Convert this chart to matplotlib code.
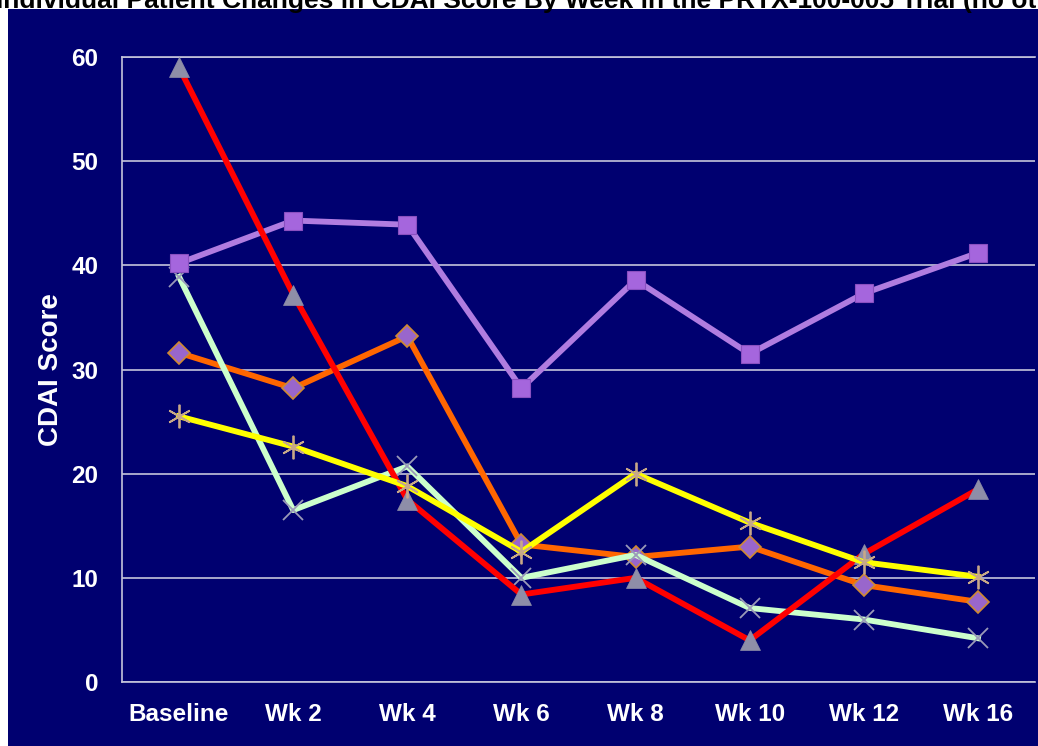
import matplotlib.pyplot as plt
from matplotlib.patches import Rectangle

plt.rcParams['font.family'] = ['Liberation Sans', 'DejaVu Sans']

# week labels on the x axis
weeks = ["Baseline", "Wk 2", "Wk 4", "Wk 6", "Wk 8", "Wk 10", "Wk 12", "Wk 16"]

# CDAI score per patient
pt_red = [59.0, 37.2, 17.5, 8.4, 10.0, 4.0, 12.3, 18.5]
pt_purple = [40.2, 44.3, 43.9, 28.2, 38.6, 31.5, 37.3, 41.2]
pt_orange = [31.6, 28.2, 33.2, 13.2, 12.0, 13.0, 9.3, 7.7]
pt_yellow = [25.5, 22.6, 18.8, 12.5, 20.0, 15.3, 11.5, 10.1]
pt_green = [38.9, 16.5, 20.7, 10.0, 12.2, 7.1, 6.0, 4.2]

navy = "#000070"
gridc = "#c4c4dc"

fig = plt.figure(figsize=(10.38, 7.46), dpi=100, facecolor="white")
fig.patches.append(Rectangle((8 / 1038, 0), 1, 1 - 9 / 746, transform=fig.transFigure,
                             facecolor=navy, edgecolor="none", zorder=-10))

# title is cut off at the top of the picture
fig.text(-4 / 1038, 1 - 8 / 746,
         "Individual Patient Changes in CDAI Score By Week in the PRTX-100-005 Trial (no other",
         fontsize=19, fontweight="bold", color="black", va="baseline", ha="left")

ax = fig.add_axes([122 / 1038, 1 - 682 / 746, 913 / 1038, 625 / 746])
ax.set_facecolor(navy)

x = list(range(len(weeks)))

ax.plot(x, pt_orange, color="#ff6600", lw=4.2, marker="D", ms=11,
        mfc="#9966cc", mec="#d08a30", mew=1.2, zorder=3)
ax.plot(x, pt_green, color="#ccffcc", lw=4.2, marker="x", ms=14,
        mec="#9a9ab8", mew=1.3, zorder=4)
ax.plot(x, pt_purple, color="#b07ce0", lw=4.2, marker="s", ms=13,
        mfc="#a566dd", mec="#8a50c0", mew=0.8, zorder=5)
ax.plot(x, pt_red, color="#ff0000", lw=4.2, marker="^", ms=15,
        mfc="#8e8ea8", mec="#8e8ea8", mew=0.5, zorder=6)
ax.plot(x, pt_yellow, color="#ffff00", lw=4.2, marker=(6, 2, 0), ms=17,
        mec="#c8a888", mew=1.3, zorder=7)

ax.set_xlim(-0.5, 7.5)
ax.set_ylim(0, 60)
ax.set_yticks(range(0, 61, 10))
ax.set_xticks(x)
ax.set_xticklabels(weeks)
ax.grid(axis="y", color=gridc, lw=1.2)
ax.set_axisbelow(True)

for side in ["top", "bottom", "left"]:
    ax.spines[side].set_color(gridc)
    ax.spines[side].set_linewidth(1.2)
ax.spines["right"].set_visible(False)

ax.tick_params(axis="both", length=0, colors="white", labelsize=17.5)
ax.tick_params(axis="y", pad=17)
ax.tick_params(axis="x", pad=15)
for lab in ax.get_xticklabels() + ax.get_yticklabels():
    lab.set_fontweight("bold")

ax.set_ylabel("CDAI Score", color="white", fontsize=20, fontweight="bold", labelpad=5)

fig.savefig("out.png", dpi=100, facecolor=fig.get_facecolor())
